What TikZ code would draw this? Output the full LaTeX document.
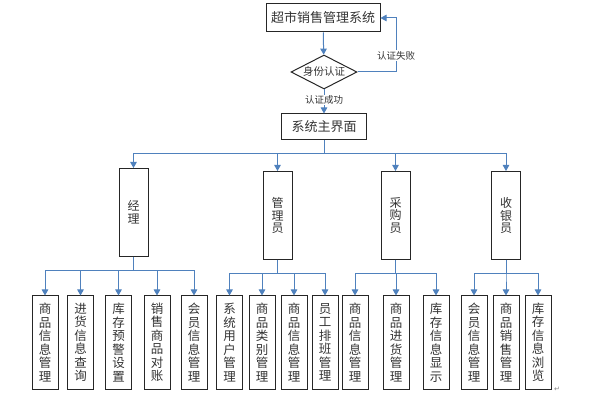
\documentclass[tikz,border=0pt]{standalone}
\usepackage{fontspec}
\newfontfamily\cjk{Noto Sans CJK SC}
\newfontfamily\symb{DejaVu Sans}
\usetikzlibrary{shapes.geometric,arrows.meta}
\definecolor{linkblue}{RGB}{79,129,189}
\tikzstyle{boxstyle}=[draw=black!85, line width=1pt, inner sep=0pt, text=black!80]
\tikzstyle{sysbox}=[boxstyle, minimum width=114pt, minimum height=28pt, font=\cjk\fontsize{13}{13}\selectfont]
\tikzstyle{checkbox}=[boxstyle, diamond, aspect=2, minimum width=66pt, minimum height=34pt, font=\cjk\fontsize{10.5}{10.5}\selectfont]
\tikzstyle{rolebox}=[boxstyle, minimum width=29pt, minimum height=88pt, align=center, font=\cjk\fontsize{12}{12.7}\selectfont]
\tikzstyle{funcbox}=[boxstyle, minimum width=26pt, minimum height=93pt, align=center, font=\cjk\fontsize{12.5}{13.5}\selectfont]
\tikzstyle{texto}=[fill=white, inner sep=1pt, text=black!80, font=\cjk\fontsize{9.5}{9.5}\selectfont]
\tikzstyle{line}=[draw, color=linkblue, line width=1pt, -{Triangle[width=6.5pt,length=6pt]}]
\newcommand{\role}[2]{node (r#1) [rolebox] {#2}}
\newcommand{\func}[2]{node (f#1) [funcbox] {#2}}

\begin{document}
\begin{tikzpicture}[x=1pt, y=-1pt]
\useasboundingbox (0,0) rectangle (598,401);
% Draw diagram elements
\node (top) [sysbox] at (323,18) {超市销售管理系统};
\node (check) [checkbox] at (324,72) {身份认证};
\node (main) [sysbox, minimum width=85pt, minimum height=26pt] at (324,127) {系统主界面};

\path (133.5,212.5) \role{1}{经\\理};
\path (277.5,215.5) \role{2}{管\\理\\员};
\path (395.5,215.5) \role{3}{采\\购\\员};
\path (506,215.5)   \role{4}{收\\银\\员};

\path (45,342.5)    \func{1}{商\\品\\信\\息\\管\\理};
\path (80.5,342.5)  \func{2}{进\\货\\信\\息\\查\\询};
\path (118.5,342.5) \func{3}{库\\存\\预\\警\\设\\置};
\path (157,342.5)   \func{4}{销\\售\\商\\品\\对\\账};
\path (194,342.5)   \func{5}{会\\员\\信\\息\\管\\理};
\path (229.5,342.5) \func{6}{系\\统\\用\\户\\管\\理};
\path (262,342.5)   \func{7}{商\\品\\类\\别\\管\\理};
\path (294,342.5)   \func{8}{商\\品\\信\\息\\管\\理};
\path (325,342.5)   \func{9}{员\\工\\排\\班\\管\\理};
\path (355,342.5)   \func{10}{商\\品\\信\\息\\管\\理};
\path (396,342.5)   \func{11}{商\\品\\进\\货\\管\\理};
\path (436,342.5)   \func{12}{库\\存\\信\\息\\显\\示};
\path (474,342.5)   \func{13}{会\\员\\信\\息\\管\\理};
\path (506,342.5)   \func{14}{商\\品\\销\\售\\管\\理};
\path (538,342.5)   \func{15}{库\\存\\信\\息\\浏\\览};

\node (para) [text=black!50, font=\symb\fontsize{7}{7}\selectfont, inner sep=0pt] at (557,389) {↵};

% Draw arrows between elements
\coordinate (fb) at (396,72);
\path [line] (top) -- (check);
\path [line] (check.east) -- (fb) |- node [texto, pos=0.15] {认证失败} (top.east);
\path [line] (check) -- node [texto, pos=0.44] {认证成功} (main);

\path [line] (main.south) -- ++(0,13) -| (r1.north);
\path [line] (main.south) -- ++(0,13) -| (r2.north);
\path [line] (main.south) -- ++(0,13) -| (r3.north);
\path [line] (main.south) -- ++(0,13) -| (r4.north);

\path [line] (r1.south) -- ++(0,14) -| (f1.north);
\path [line] (r1.south) -- ++(0,14) -| (f2.north);
\path [line] (r1.south) -- ++(0,14) -| (f3.north);
\path [line] (r1.south) -- ++(0,14) -| (f4.north);
\path [line] (r1.south) -- ++(0,14) -| (f5.north);

\path [line] (r2.south) -- ++(0,14) -| (f6.north);
\path [line] (r2.south) -- ++(0,14) -| (f7.north);
\path [line] (r2.south) -- ++(0,14) -| (f8.north);
\path [line] (r2.south) -- ++(0,14) -| (f9.north);

\path [line] (r3.south) -- ++(0,14) -| (f10.north);
\path [line] (r3.south) -- ++(0,14) -| (f11.north);
\path [line] (r3.south) -- ++(0,14) -| (f12.north);

\path [line] (r4.south) -- ++(0,14) -| (f13.north);
\path [line] (r4.south) -- ++(0,14) -| (f14.north);
\path [line] (r4.south) -- ++(0,14) -| (f15.north);
\end{tikzpicture}
\end{document}
